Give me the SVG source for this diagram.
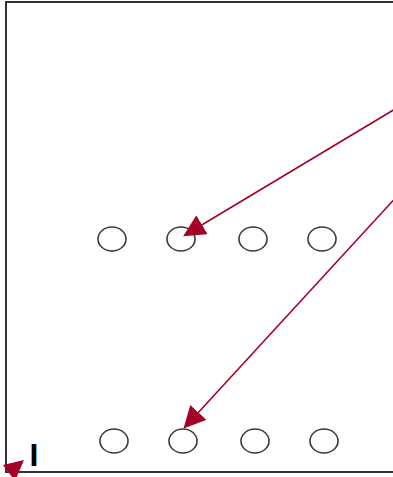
<svg xmlns="http://www.w3.org/2000/svg" width="393" height="477" viewBox="0 0 393 477">
<style>
.frame{fill:none;stroke:#333;stroke-width:2}
.node{fill:#fff;stroke:#3a3a3a;stroke-width:1.6}
.conn{fill:none;stroke:#a50026;stroke-width:1.6}
.lbl{font-family:"Liberation Sans",Arial,sans-serif;font-weight:bold;font-size:32px;fill:#000}
</style>
<defs>
<marker id="ahb" viewBox="0 0 10 10" refX="9" refY="5" markerWidth="22" markerHeight="22" markerUnits="userSpaceOnUse" orient="auto">
<path d="M0,0 L10,5 L0,10 z" fill="#a50026"/>
</marker>
</defs>
<rect class="frame" x="6" y="2" width="400" height="470"/>
<g id="n1"><ellipse class="node" cx="112" cy="239" rx="14" ry="12"/></g>
<g id="n2"><ellipse class="node" cx="181" cy="239" rx="14" ry="12"/></g>
<g id="n3"><ellipse class="node" cx="253" cy="239" rx="14" ry="12"/></g>
<g id="n4"><ellipse class="node" cx="322" cy="239" rx="14" ry="12"/></g>
<g id="n5"><ellipse class="node" cx="114" cy="441" rx="14" ry="12"/></g>
<g id="n6"><ellipse class="node" cx="183" cy="441" rx="14" ry="12"/></g>
<g id="n7"><ellipse class="node" cx="255" cy="441" rx="14" ry="12"/></g>
<g id="n8"><ellipse class="node" cx="324" cy="441" rx="14" ry="12"/></g>
<g id="label"><text class="lbl" x="29.5" y="466">I</text></g>
<g id="connectors">
<line class="conn" x1="400" y1="106" x2="185" y2="235" marker-end="url(#ahb)"/>
<line class="conn" x1="400" y1="193" x2="185" y2="427" marker-end="url(#ahb)"/>
<polygon points="24,460 3,465 15,481" fill="#a50026"/>
</g>
</svg>
